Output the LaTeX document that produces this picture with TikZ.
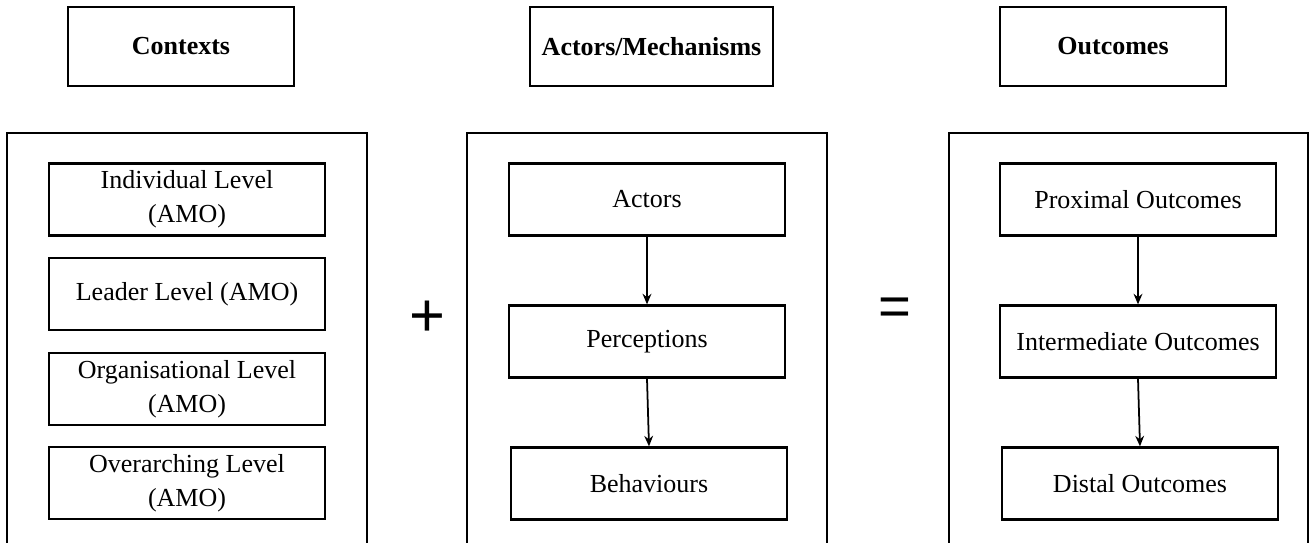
\documentclass[tikz,border=0pt]{standalone}
\usepackage{fontspec}
\setmainfont{Liberation Serif}
\newfontfamily\symfont{Liberation Sans}
\usepackage{tikz}
\usetikzlibrary{arrows.meta}
\usetikzlibrary{positioning}

\begin{document}
\begin{tikzpicture}[x=0.02cm, y=-0.02cm,
                    font=\fontsize{14.8}{19.2}\selectfont]
	\useasboundingbox (0,0) rectangle (1309,543);

	% headings
	\begin{scope}[every node/.style={draw, line width=1.3pt, font=\fontsize{14.8}{19.2}\selectfont\bfseries, minimum height=1.58cm}]
		\node[minimum width=4.52cm] (ctx) at (181,46.5) {Contexts};
		\node[minimum width=4.86cm] (mech) at (651.5,46.5) {Actors/Mechanisms};
		\node[minimum width=4.52cm] (out) at (1113,46.5) {Outcomes};
	\end{scope}

	% frames, open at the bottom
	\begin{scope}[line width=1.3pt]
		\draw (7,543) -- (7,133) -- (367,133) -- (367,543);
		\draw (467,543) -- (467,133) -- (827,133) -- (827,543);
		\draw (949,543) -- (949,133) -- (1308,133) -- (1308,543);
	\end{scope}

	% inner boxes
	\begin{scope}[every node/.style={draw, line width=1.3pt, align=center, minimum width=5.52cm, minimum height=1.44cm}]
		\node (ind) at (187,199.5) {Individual Level\\(AMO)};
		\node (lead) at (187,294) {Leader Level (AMO)};
		\node (org) at (187,389) {Organisational Level\\(AMO)};
		\node (over) at (187,483) {Overarching Level\\(AMO)};

		\node (act) at (647,199.5) {Actors};
		\node (perc) at (647,341.5) {Perceptions};
		\node (beh) at (649,483.5) {Behaviours};

		\node (prox) at (1138,199.5) {Proximal Outcomes};
		\node (inter) at (1138,341.5) {Intermediate Outcomes};
		\node (dist) at (1140,483.5) {Distal Outcomes};
	\end{scope}

	\node (plus) at (427,319) {\fontsize{35}{35}\selectfont\symfont +};
	\node (eq) at (895,312) {\fontsize{32}{32}\selectfont\symfont =};

	\begin{scope}[>={Stealth[length=6pt, width=5pt]}, line width=1pt]
		\draw[->] (act.south) -- (perc.north);
		\draw[->] (perc.south) -- (beh.north);
		\draw[->] (prox.south) -- (inter.north);
		\draw[->] (inter.south) -- (dist.north);
	\end{scope}
\end{tikzpicture}
\end{document}
